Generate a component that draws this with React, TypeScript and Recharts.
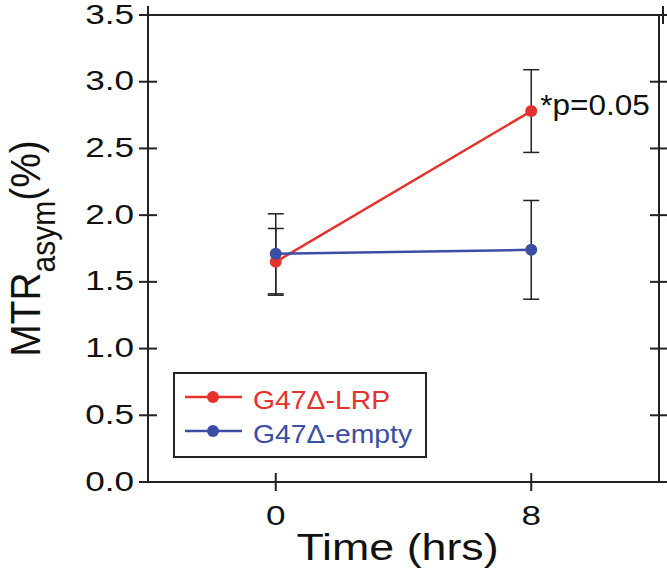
import React from "react";
import {
  LineChart,
  Line,
  XAxis,
  YAxis,
  ErrorBar,
  Legend,
  Label,
  LabelList,
} from "recharts";

// values
const TIMES = [0, 8];
const LRP_MEAN = [1.65, 2.78];
const LRP_ERR = [0.25, 0.31];
const EMPTY_MEAN = [1.71, 1.74];
const EMPTY_ERR = [0.3, 0.37];
const NOTES = ["", "*p=0.05"];

const X_TICKS = [0, 8];
const Y_TICKS = [0, 0.5, 1, 1.5, 2, 2.5, 3, 3.5];

const SERIES_NAMES = ["G47\u0394-LRP", "G47\u0394-empty"];
const X_TITLE = "Time (hrs)";

const RED = "#e5322d";
const BLUE = "#3b4ea3";
const AXIS = "#222";
const FONT = "'Liberation Sans', Arial, sans-serif";

const data = TIMES.map((t, i) => ({
  time: t,
  lrp: LRP_MEAN[i],
  lrpErr: LRP_ERR[i],
  empty: EMPTY_MEAN[i],
  emptyErr: EMPTY_ERR[i],
  note: NOTES[i],
}));

const LeftTick = (props: any) => {
  const { x, y, payload } = props;
  return (
    <g>
      <line x1={x + 5} x2={x + 23} y1={y} y2={y} stroke={AXIS} strokeWidth={2} />
      <text
        transform={`translate(${x},${y}) scale(1.3,1)`}
        dy={8.5}
        textAnchor="end"
        fontSize={27}
        fontFamily={FONT}
        fill="#111"
      >
        {Number(payload.value).toFixed(1)}
      </text>
    </g>
  );
};

const RightTick = (props: any) => {
  const { x, y } = props;
  return <line x1={x - 9} x2={x + 9} y1={y} y2={y} stroke={AXIS} strokeWidth={2} />;
};

const BottomTick = (props: any) => {
  const { x, y, payload } = props;
  return (
    <g>
      <line x1={x} x2={x} y1={y - 9} y2={y + 9} stroke={AXIS} strokeWidth={2} />
      <text
        transform={`translate(${x},${y + 43}) scale(1.3,1)`}
        textAnchor="middle"
        fontSize={27}
        fontFamily={FONT}
        fill="#111"
      >
        {payload.value}
      </text>
    </g>
  );
};

const TopTick = (props: any) => {
  const { x, y } = props;
  return <line x1={x} x2={x} y1={y - 9} y2={y + 9} stroke={AXIS} strokeWidth={2} />;
};

const XTitle = (props: any) => {
  const { x, y, width } = props.viewBox;
  return (
    <text
      transform={`translate(${x + width / 2 - 6},${y + 78}) scale(1.21,1)`}
      textAnchor="middle"
      fontSize={37}
      fontFamily={FONT}
      fill="#111"
    >
      {X_TITLE}
    </text>
  );
};

const YTitle = (props: any) => {
  const { y, height } = props.viewBox;
  return (
    <text
      transform={`translate(40,${y + height / 2}) rotate(-90) scale(1,1.1)`}
      textAnchor="middle"
      fontSize={39}
      fontFamily={FONT}
      fill="#111"
    >
      <tspan>MTR</tspan>
      <tspan fontSize={30} dy={14}>
        asym
      </tspan>
      <tspan dy={-14}>(%)</tspan>
    </text>
  );
};

const NoteLabel = (props: any) => {
  const { x, y, value } = props;
  if (!value) return null;
  return (
    <text
      transform={`translate(${x + 9},${y + 4}) scale(1.05,1)`}
      fontSize={30}
      fontFamily={FONT}
      fill="#111"
    >
      {value}
    </text>
  );
};

const LegendBox = (props: any) => {
  const items = props.payload || [];
  return (
    <svg width={254} height={86} style={{ display: "block" }}>
      <rect x={1} y={1} width={252} height={84} fill="#fff" stroke={AXIS} strokeWidth={2} />
      {items.map((item: any, i: number) => {
        const cy = 25 + i * 34;
        return (
          <g key={item.value}>
            <line x1={12} x2={69} y1={cy} y2={cy} stroke={item.color} strokeWidth={2.5} />
            <circle cx={40} cy={cy} r={6} fill={item.color} />
            <text
              transform={`translate(80,${cy + 12}) scale(1.09,1)`}
              fontSize={26}
              fontFamily={FONT}
              fill={item.color}
            >
              {item.value}
            </text>
          </g>
        );
      })}
    </svg>
  );
};

export default function App() {
  return (
    <div style={{ position: "absolute", left: 0, top: 0, background: "#fff" }}>
      <LineChart
        width={667}
        height={575}
        data={data}
        margin={{ top: 14, right: 7, bottom: 0, left: 0 }}
      >
        <XAxis
          dataKey="time"
          type="number"
          domain={[-4, 12]}
          ticks={X_TICKS}
          allowDataOverflow
          height={93}
          tickSize={0}
          tickMargin={0}
          tickLine={false}
          axisLine={{ stroke: AXIS, strokeWidth: 2 }}
          tick={BottomTick}
        >
          <Label content={XTitle} />
        </XAxis>
        <XAxis
          xAxisId="top"
          orientation="top"
          type="number"
          domain={[-4, 12]}
          ticks={X_TICKS}
          allowDataOverflow
          height={1}
          tickSize={0}
          tickMargin={0}
          tickLine={false}
          axisLine={{ stroke: AXIS, strokeWidth: 2 }}
          tick={TopTick}
        />
        <YAxis
          type="number"
          domain={[0, 3.5]}
          ticks={Y_TICKS}
          allowDataOverflow
          width={148}
          tickSize={0}
          tickMargin={14}
          tickLine={false}
          axisLine={{ stroke: AXIS, strokeWidth: 2 }}
          tick={LeftTick}
        >
          <Label content={YTitle} />
        </YAxis>
        <YAxis
          yAxisId="right"
          orientation="right"
          type="number"
          domain={[0, 3.5]}
          ticks={Y_TICKS}
          allowDataOverflow
          width={1}
          tickSize={0}
          tickMargin={0}
          tickLine={false}
          axisLine={{ stroke: AXIS, strokeWidth: 2 }}
          tick={RightTick}
        />
        <Legend
          layout="horizontal"
          align="center"
          verticalAlign="middle"
          content={LegendBox}
          wrapperStyle={{ left: 173, top: 372, width: 254, height: 86 }}
        />
        <Line
          name={SERIES_NAMES[0]}
          dataKey="lrp"
          stroke={RED}
          strokeWidth={2.5}
          dot={{ r: 6, fill: RED, stroke: RED, strokeWidth: 0 }}
          activeDot={false}
          isAnimationActive={false}
        >
          <ErrorBar dataKey="lrpErr" width={8} stroke={AXIS} strokeWidth={1.5} isAnimationActive={false} />
          <LabelList dataKey="note" content={NoteLabel} />
        </Line>
        <Line
          name={SERIES_NAMES[1]}
          dataKey="empty"
          stroke={BLUE}
          strokeWidth={2.5}
          dot={{ r: 6, fill: BLUE, stroke: BLUE, strokeWidth: 0 }}
          activeDot={false}
          isAnimationActive={false}
        >
          <ErrorBar dataKey="emptyErr" width={8} stroke={AXIS} strokeWidth={1.5} isAnimationActive={false} />
        </Line>
      </LineChart>
    </div>
  );
}
